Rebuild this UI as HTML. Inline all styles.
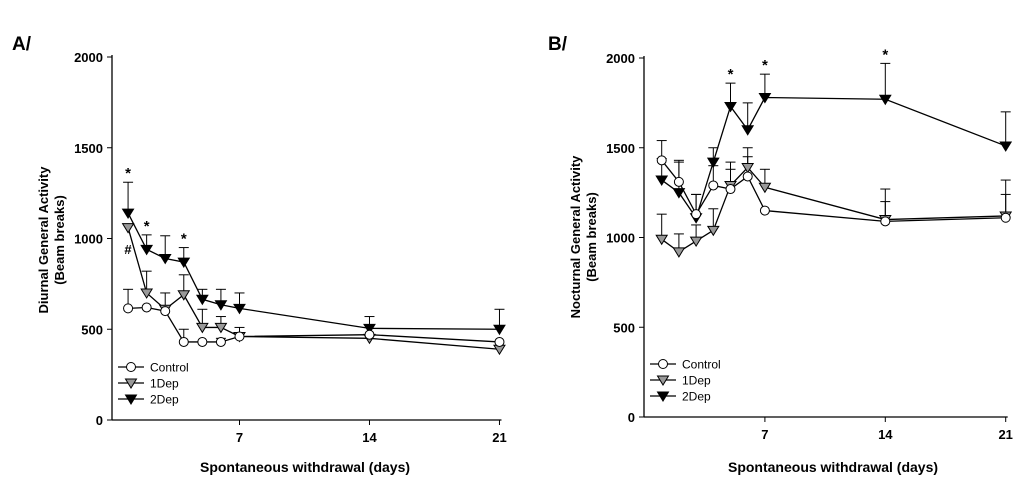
<!DOCTYPE html>
<html><head><meta charset="utf-8"><style>
body{margin:0;background:#fff;width:1024px;height:489px;overflow:hidden}
svg{font-family:"Liberation Sans",Arial,sans-serif}
</style></head><body>
<svg id="c" width="1024" height="489"></svg>
<script>
const days=[1,2,3,4,5,6,7,14,21];
const aControl=[615,620,600,430,430,430,460,470,430];
const aControlErr=[105,0,0,70,0,20,0,0,0];
const a1Dep=[1060,700,610,690,510,510,460,450,390];
const a1DepErr=[0,120,90,110,100,60,50,0,0];
const a2Dep=[1140,940,890,870,665,635,615,505,500];
const a2DepErr=[170,80,125,80,55,85,85,65,110];
const bControl=[1430,1310,1130,1290,1270,1340,1150,1090,1110];
const bControlErr=[110,110,110,110,110,110,0,110,130];
const b1Dep=[990,920,980,1040,1290,1390,1280,1100,1120];
const b1DepErr=[140,100,90,120,130,110,100,170,200];
const b2Dep=[1320,1250,1110,1420,1730,1600,1780,1770,1510];
const b2DepErr=[120,180,130,80,130,150,130,200,190];
const yTicks=[0,500,1000,1500,2000];
const xTicks=[7,14,21];
const NS="http://www.w3.org/2000/svg";
const svg=document.getElementById('c');
function el(t,a,p){const e=document.createElementNS(NS,t);for(const k in a)e.setAttribute(k,a[k]);(p||svg).appendChild(e);return e;}
function panel(cfg){
  const g=el('g',{});
  
  
  const X=d=>cfg.x0+d*cfg.dx, Y=v=>cfg.y0-v*cfg.dy;
  let ax=el('line',{x1:cfg.ax,y1:cfg.y0,x2:cfg.ax,y2:Y(2000)-2,stroke:'#000','stroke-width':1.3},g);
  
  let bx=el('line',{x1:cfg.ax,y1:cfg.y0,x2:X(21)+2,y2:cfg.y0,stroke:'#000','stroke-width':1.3},g);
  
  yTicks.forEach(v=>{el('line',{x1:cfg.ax-5,y1:Y(v),x2:cfg.ax,y2:Y(v),stroke:'#000'},g);
    const t=el('text',{x:cfg.ax-9,y:Y(v)+5,'text-anchor':'end','font-size':13,'font-weight':'bold'},g);t.textContent=v;
    });
  xTicks.forEach(d=>{el('line',{x1:X(d),y1:cfg.y0,x2:X(d),y2:cfg.y0+5,stroke:'#000'},g);
    const t=el('text',{x:X(d),y:cfg.y0+22,'text-anchor':'middle','font-size':13,'font-weight':'bold'},g);t.textContent=d;
    });
  const series=[[cfg.s2,cfg.e2,'tri','#000'],[cfg.s1,cfg.e1,'tri','#999'],[cfg.s0,cfg.e0,'circ','#fff']];
  series.forEach(([s,e])=>{s.forEach((v,i)=>{if(e[i]>0){const x=X(days[i]);
    el('line',{x1:x,y1:Y(v),x2:x,y2:Y(v+e[i]),stroke:'#000','stroke-width':1},g);
    el('line',{x1:x-5,y1:Y(v+e[i]),x2:x+5,y2:Y(v+e[i]),stroke:'#000','stroke-width':1},g);}});});
  series.forEach(([s,e,m,f],si)=>{
    const p=el('polyline',{points:s.map((v,i)=>X(days[i])+','+Y(v)).join(' '),fill:'none',stroke:'#000','stroke-width':1.3},g);
    
    s.forEach((v,i)=>{const x=X(days[i]),y=Y(v);let mk;
      if(m=='circ')mk=el('circle',{cx:x,cy:y,r:4.5,fill:f,stroke:'#000'},g);
      else mk=el('polygon',{points:`${x-5.5},${y-4} ${x+5.5},${y-4} ${x},${y+5}`,fill:f,stroke:'#000'},g);
      });
  });
  cfg.stars.forEach(i=>{const v=cfg.s2[i]+cfg.e2[i];const t=el('text',{x:X(days[i]),y:Y(v)-4,'text-anchor':'middle','font-size':15,'font-weight':'bold'},g);t.textContent='*';
    });
  const lx=cfg.ax+6, ly=cfg.y0-53;
  [['Control','circ','#fff'],['1Dep','tri','#999'],['2Dep','tri','#000']].forEach(([n,m,f],k)=>{
    const y=ly+k*16;
    el('line',{x1:lx,y1:y,x2:lx+26,y2:y,stroke:'#000','stroke-width':1.3},g);
    if(m=='circ')el('circle',{cx:lx+13,cy:y,r:4.5,fill:f,stroke:'#000'},g);
    else el('polygon',{points:`${lx+7.5},${y-4} ${lx+18.5},${y-4} ${lx+13},${y+5}`,fill:f,stroke:'#000'},g);
    const t=el('text',{x:lx+32,y:y+4.5,'font-size':12},g);t.textContent=n;
    });
  const xt=el('text',{x:cfg.xtx,y:472,'text-anchor':'middle','font-size':14,'font-weight':'bold'},g);xt.textContent='Spontaneous withdrawal (days)';
  
  const yt=el('text',{transform:`translate(${cfg.ytx},${cfg.y0-180}) rotate(-90)`,'text-anchor':'middle','font-size':13,'font-weight':'bold'},g);
  
  const a=el('tspan',{x:0,dy:0},yt);a.textContent=cfg.ylab;
  const b=el('tspan',{x:0,dy:16},yt);b.textContent='(Beam breaks)';
  const pl=el('text',{x:cfg.plx,y:50,'font-size':19,'font-weight':'bold'},g);pl.textContent=cfg.pl;
  
}
panel({name:'panel-a',ax:112,x0:109.5,dx:18.57,y0:420,dy:0.1815,s0:aControl,e0:aControlErr,s1:a1Dep,e1:a1DepErr,s2:a2Dep,e2:a2DepErr,stars:[0,1,3],ylab:'Diurnal General Activity',ytx:48,xtx:305,plx:12,pl:'A/'});
panel({name:'panel-b',ax:644,x0:644.5,dx:17.2,y0:417,dy:0.1795,s0:bControl,e0:bControlErr,s1:b1Dep,e1:b1DepErr,s2:b2Dep,e2:b2DepErr,stars:[4,6,7],ylab:'Nocturnal General Activity',ytx:580,xtx:833,plx:548,pl:'B/'});
const hs=document.createElementNS(NS,'text');hs.setAttribute('x',128);hs.setAttribute('y',254);hs.setAttribute('text-anchor','middle');hs.setAttribute('font-size',13);hs.setAttribute('font-weight','bold');hs.textContent='#';


svg.appendChild(hs);
</script>
</body></html>
